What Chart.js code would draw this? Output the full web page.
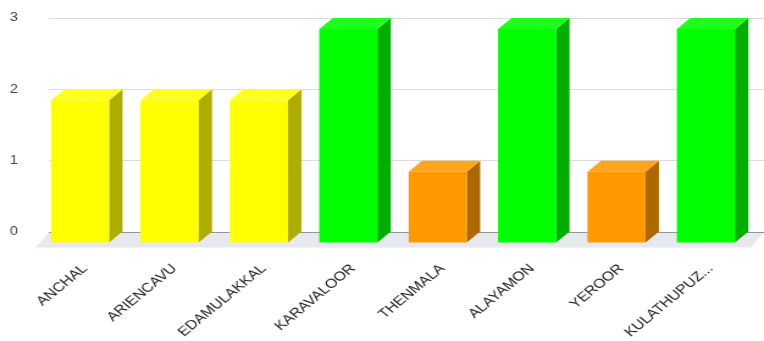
<!DOCTYPE html>
<html>
<head>
<meta charset="utf-8">
<script src="https://cdn.jsdelivr.net/npm/chart.js@4.4.1/dist/chart.umd.min.js"></script>
<style>
  html, body { margin: 0; padding: 0; background: #fff; overflow: hidden; }
  #wrap { width: 626px; height: 341px; transform: scaleX(1.2204); transform-origin: 0 0; }
</style>
</head>
<body>
<div id="wrap"><canvas id="chart" width="626" height="341"></canvas></div>
<script>
  const categories = ["ANCHAL", "ARIENCAVU", "EDAMULAKKAL", "KARAVALOOR", "THENMALA", "ALAYAMON", "YEROOR", "KULATHUPUZ..."];
  const values = [2, 2, 2, 3, 1, 3, 1, 3];
  const barColors = ["#ffff00", "#ffff00", "#ffff00", "#00ff00", "#ff9900", "#00ff00", "#ff9900", "#00ff00"];
  const yTicks = [0, 1, 2, 3];

  // 3D depth of each column, in canvas pixels
  const DX = 11;
  const DY = 11;

  function shade(hex, f) {
    const n = parseInt(hex.slice(1), 16);
    const ch = [(n >> 16) & 255, (n >> 8) & 255, n & 255].map((c) =>
      Math.round(f < 1 ? c * f : c + (255 - c) * (f - 1))
    );
    return `rgb(${ch.join(",")})`;
  }

  function poly(ctx, pts, fill) {
    ctx.beginPath();
    ctx.moveTo(pts[0][0], pts[0][1]);
    for (let i = 1; i < pts.length; i++) ctx.lineTo(pts[i][0], pts[i][1]);
    ctx.closePath();
    ctx.fillStyle = fill;
    ctx.fill();
  }

  // floor + side/top faces behind, then the front faces pushed forward
  const bars3d = {
    id: "bars3d",
    beforeDatasetsDraw(chart) {
      const { ctx, chartArea: a, scales } = chart;
      const y0 = scales.y.getPixelForValue(0) + 0.5;
      ctx.save();
      poly(ctx, [[a.left, y0], [a.right, y0], [a.right - DX, y0 + DY + 4], [a.left - DX, y0 + DY + 4]], "#e8e8ef");
      chart.getDatasetMeta(0).data.forEach((bar, i) => {
        const { x, y, base, width } = bar.getProps(["x", "y", "base", "width"], true);
        const l = x - width / 2, r = x + width / 2;
        const col = barColors[i];
        poly(ctx, [[r - DX, y + DY], [r, y], [r, base], [r - DX, base + DY]], shade(col, 0.68));
        poly(ctx, [[l - DX, y + DY], [l, y], [r, y], [r - DX, y + DY]], shade(col, 1.12));
      });
      ctx.restore();
      ctx.save();
      ctx.translate(-DX, DY);
    },
    afterDatasetsDraw(chart) {
      chart.ctx.restore();
    },
  };

  Chart.defaults.font.family = 'Arial, "Liberation Sans", sans-serif';

  new Chart(document.getElementById("chart"), {
    type: "bar",
    data: {
      labels: categories,
      datasets: [
        {
          data: values,
          backgroundColor: barColors,
          borderWidth: 0,
          categoryPercentage: 1,
          barPercentage: 0.65,
          clip: false,
        },
      ],
    },
    options: {
      responsive: false,
      animation: false,
      devicePixelRatio: 1,
      layout: { padding: { left: 8, top: 18, right: 0, bottom: 0 } },
      plugins: { legend: { display: false }, tooltip: { enabled: false } },
      scales: {
        x: {
          grid: { display: false },
          border: { display: false },
          ticks: {
            color: "#222",
            font: { size: 13 },
            minRotation: 45,
            maxRotation: 45,
            autoSkip: false,
            padding: 21,
            labelOffset: -7,
          },
          afterFit: (s) => { s.height = 109; },
        },
        y: {
          min: 0,
          max: 3,
          border: { display: false },
          grid: {
            drawTicks: false,
            color: (c) => (c.tick && c.tick.value === 0 ? "#444" : "#dcdcdc"),
          },
          ticks: {
            color: "#444",
            font: { size: 12 },
            stepSize: 1,
            crossAlign: "far",
            callback: (v) => (yTicks.includes(v) ? String(v) : ""),
          },
          afterFit: (s) => { s.width = 32; },
        },
      },
    },
    plugins: [bars3d],
  });
</script>
</body>
</html>
